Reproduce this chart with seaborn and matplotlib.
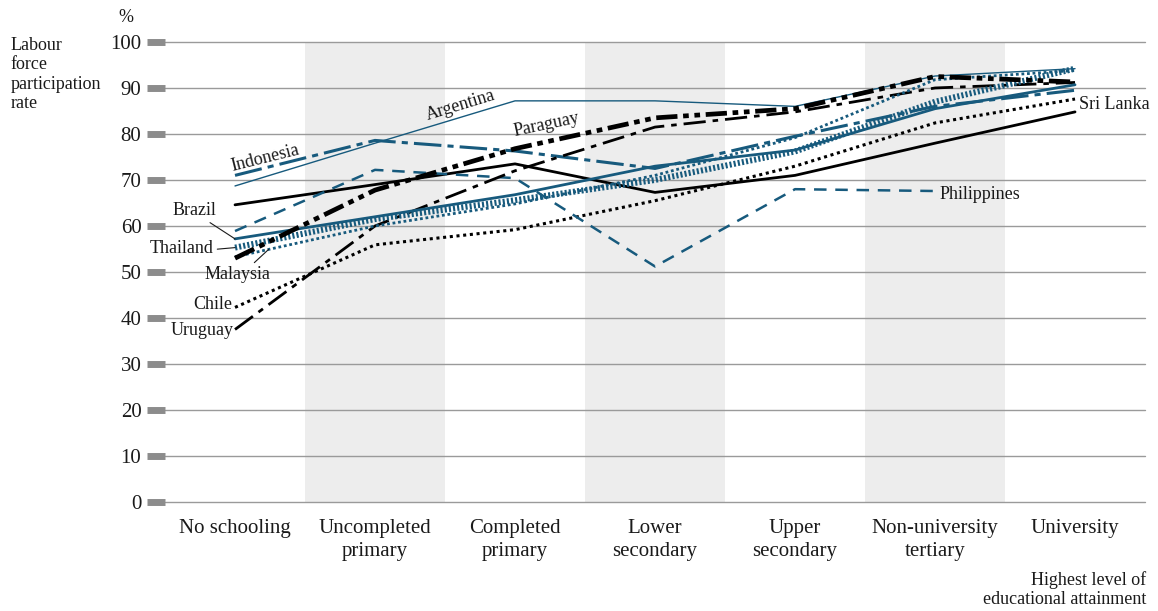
import numpy as np
import pandas as pd
import matplotlib
matplotlib.use('Agg')
import matplotlib.pyplot as plt
import seaborn as sns

# Data (labour force participation rate, %)
levels = ['No schooling', 'Uncompleted\nprimary', 'Completed\nprimary', 'Lower\nsecondary',
          'Upper\nsecondary', 'Non-university\ntertiary', 'University']
argentina = [68.7, 78.0, 87.2, 87.2, 86.0, 92.6, 94.2]
indonesia = [71.0, 78.6, 76.3, 72.5, 79.5, 86.0, 89.5]
paraguay = [53.0, 67.8, 76.8, 83.5, 85.5, 92.5, 91.3]
uruguay = [37.5, 60.0, 72.0, 81.5, 84.8, 90.0, 91.2]
brazil = [57.2, 62.0, 66.8, 73.0, 76.5, 85.5, 90.7]
thailand = [55.3, 61.5, 65.6, 70.0, 76.2, 87.0, 94.2]
malaysia = [53.3, 60.0, 64.8, 71.0, 79.2, 91.8, 93.8]
philippines = [58.9, 72.2, 70.4, 51.2, 68.0, 67.6, np.nan]
chile = [42.3, 55.9, 59.2, 65.5, 73.0, 82.4, 87.6]
sri_lanka = [64.6, 69.0, 73.5, 67.3, 71.0, 78.0, 84.8]
yticks = list(range(0, 101, 10))

BLUE = '#175a7d'
BLACK = '#000000'

# name -> (values, colour, linewidth, linestyle)
series = {
    'Argentina': (argentina, BLUE, 1.0, '-'),
    'Chile': (chile, BLACK, 2.2, (0, (1, 1.2))),
    'Sri Lanka': (sri_lanka, BLACK, 2.0, '-'),
    'Philippines': (philippines, BLUE, 1.8, (0, (5, 3.5))),
    'Indonesia': (indonesia, BLUE, 2.2, (0, (9, 2, 2, 2))),
    'Uruguay': (uruguay, BLACK, 2.0, (0, (8, 2.5, 2, 2.5))),
    'Brazil': (brazil, BLUE, 2.0, '-'),
    'Malaysia': (malaysia, BLUE, 2.0, (0, (1, 1))),
    'Thailand': (thailand, BLUE, 4.3, (0, (0.35, 0.35))),
    'Paraguay': (paraguay, BLACK, 3.4, (0, (4.5, 1.2, 1.2, 1.2, 1.2, 1.2))),
}

sns.set_theme(style='white')
plt.rcParams['font.family'] = ['Liberation Serif', 'DejaVu Serif']

fig = plt.figure(figsize=(11.58, 6.11), dpi=100)
ax = fig.add_axes([0.1425, 0.1784, 0.8463, 0.7529])

x = np.arange(len(levels))

# shaded bands behind every other category
for i in range(1, len(levels), 2):
    ax.axvspan(i - 0.5, i + 0.5, color='#ededed', zorder=0, lw=0)

for name, (vals, color, lw, ls) in series.items():
    df = pd.DataFrame({'level': x, 'rate': vals}).dropna()
    sns.lineplot(data=df, x='level', y='rate', ax=ax, color=color, lw=lw,
                 linestyle=ls, zorder=3, legend=False)

ax.set_xlim(-0.5, 6.5)
ax.set_ylim(0, 100)
ax.set_yticks(yticks)
ax.set_xticks(x)
ax.set_xticklabels(levels, fontsize=15, color='#1a1a1a')
for t in ax.get_xticklabels():
    t.set_linespacing(1.28)
ax.tick_params(axis='x', bottom=False, length=0, pad=12)
ax.tick_params(axis='y', left=True, labelsize=15, labelcolor='#1a1a1a', length=13,
               width=5, color='#8c8c8c', direction='out', pad=4)
ax.set_xlabel('')
ax.set_ylabel('')
ax.yaxis.grid(True, color='#9a9a9a', lw=1.0, zorder=1)
ax.xaxis.grid(False)
for gl in ax.get_ygridlines():
    gl.set_clip_on(False)
for s in ax.spines.values():
    s.set_visible(False)

lab = dict(fontsize=13, color='#1a1a1a', textcoords='offset pixels')
lead = dict(arrowstyle='-', color='#1a1a1a', lw=0.8, shrinkA=0, shrinkB=0)

# rotated labels along lines
ax.annotate('Indonesia', xy=(0, indonesia[0]), xytext=(30, 17), ha='center', va='center',
            rotation=14, **lab)
ax.annotate('Argentina', xy=(1, argentina[1]), xytext=(86, 38), ha='center', va='center',
            rotation=17, **lab)
ax.annotate('Paraguay', xy=(2, paraguay[2]), xytext=(31, 24), ha='center', va='center',
            rotation=12, **lab)

# left-hand labels with leader lines
ax.annotate('Brazil', xy=(0, brazil[0]), xytext=(-41, 28), ha='center', va='center',
            arrowprops=dict(relpos=(0.75, 0.0), **lead), **lab)
ax.annotate('Thailand', xy=(0, thailand[0]), xytext=(-21, -1), ha='right', va='center',
            arrowprops=dict(relpos=(1.0, 0.45), **lead), **lab)
m_x = 0.24
m_y = malaysia[0] + m_x * (malaysia[1] - malaysia[0])
ax.annotate('Malaysia', xy=(m_x, m_y), xytext=(-31, -25), ha='center', va='center',
            arrowprops=dict(relpos=(0.7, 1.0), **lead), **lab)
ax.annotate('Chile', xy=(0, chile[0]), xytext=(-3, 3), ha='right', va='center', **lab)
ax.annotate('Uruguay', xy=(0, uruguay[0]), xytext=(-1, -1), ha='right', va='center', **lab)

# right-hand labels
ax.annotate('Philippines', xy=(5, philippines[5]), xytext=(4, -3), ha='left', va='center', **lab)
ax.annotate('Sri Lanka', xy=(6, sri_lanka[6]), xytext=(4, 7), ha='left', va='center', **lab)

# axis titles
fig.text(0.009, 0.94, 'Labour\nforce\nparticipation\nrate', fontsize=13, color='#1a1a1a',
         ha='left', va='top', linespacing=1.2)
fig.text(0.109, 0.972, '%', fontsize=13, color='#1a1a1a', ha='center', va='center')
fig.text(0.99, 0.035, 'Highest level of\neducational attainment', fontsize=13,
         color='#1a1a1a', ha='right', va='center', linespacing=1.2)

fig.savefig('out.png', dpi=100)
plt.close(fig)
